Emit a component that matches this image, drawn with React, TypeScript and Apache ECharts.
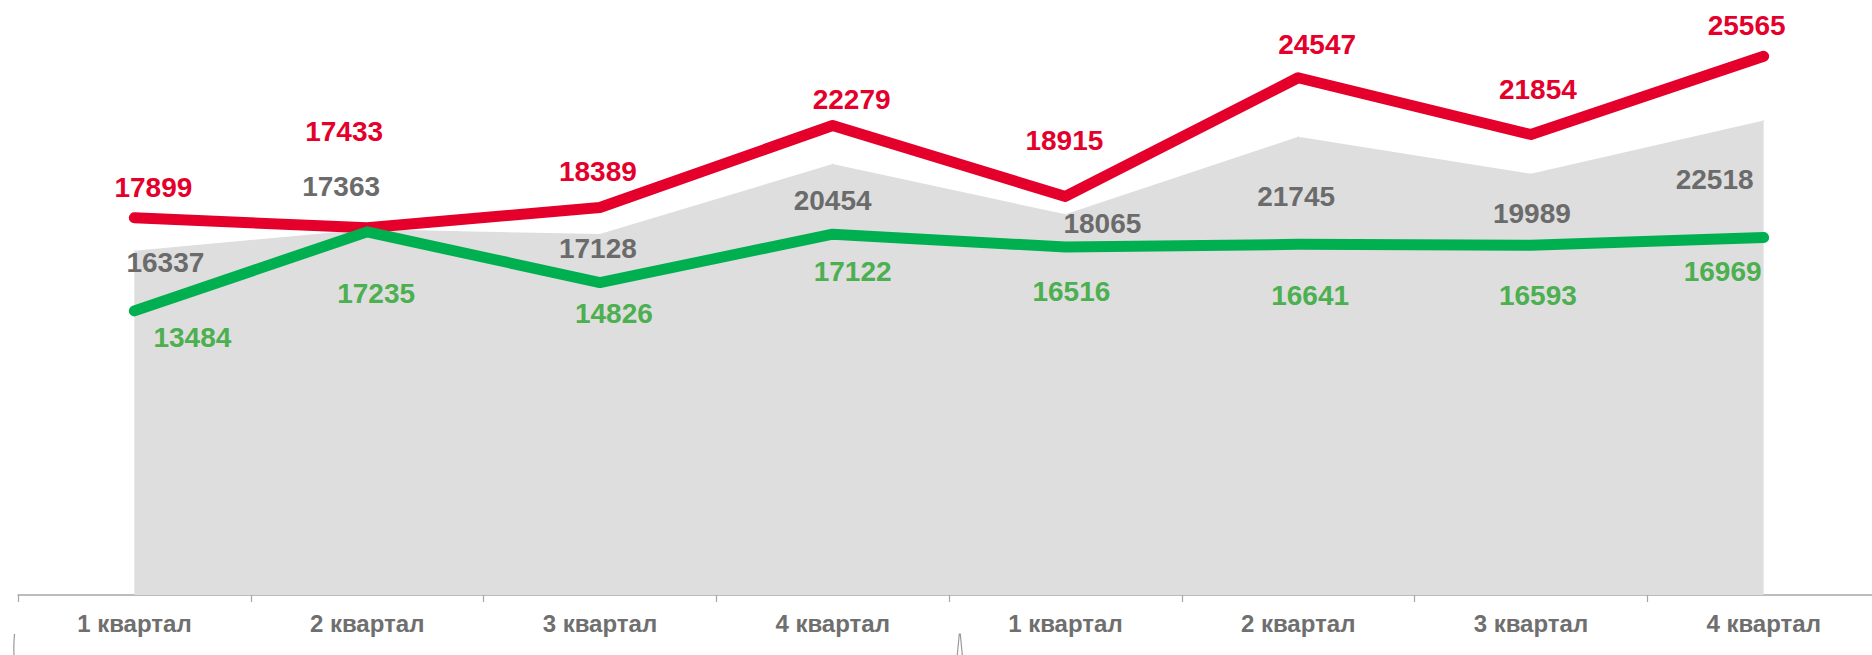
import React, { useEffect, useRef } from "react";
import * as echarts from "echarts";

const categories = [
  "1 квартал", "2 квартал", "3 квартал", "4 квартал",
  "1 квартал", "2 квартал", "3 квартал", "4 квартал",
];
const redValues = [17899, 17433, 18389, 22279, 18915, 24547, 21854, 25565];
const grayValues = [16337, 17363, 17128, 20454, 18065, 21745, 19989, 22518];
const greenValues = [13484, 17235, 14826, 17122, 16516, 16641, 16593, 16969];

// label placement (layout only), [dx, dy] from each point
const redLabelOffsets = [[19, -30], [-23, -96], [-2, -36], [19, -26], [-1, -56], [19, -33], [7, -45], [-17, -31]];
const grayLabelOffsets = [[31, 12], [-26, -43], [-2, 14], [0, 36], [37, 9], [-2, 60], [1, 40], [-49, 59]];
const greenLabelOffsets = [[58, 27], [9, 62], [14, 31], [20, 37], [6, 45], [12, 51], [7, 50], [-41, 34]];

const FONT = "'Liberation Sans', Arial, sans-serif";

function withOffsets(values: number[], offsets: number[][]) {
  return values.map((v, i) => ({ value: v, label: { offset: offsets[i] } }));
}

export default function App() {
  const ref = useRef<HTMLDivElement>(null);
  useEffect(() => {
    if (!ref.current) return;
    const chart = echarts.init(ref.current, undefined, { renderer: "svg" });
    const labelBase = {
      show: true,
      position: "inside",
      fontFamily: FONT,
      fontSize: 28,
      fontWeight: "bold",
    };
    chart.setOption({
      animation: false,
      backgroundColor: "#ffffff",
      grid: {
        left: 18,
        width: 1862,
        top: 5,
        bottom: 60,
        containLabel: false,
        outerBoundsMode: "none",
      },
      xAxis: {
        type: "category",
        data: categories,
        boundaryGap: true,
        axisLine: { show: true, lineStyle: { color: "#a6a6a6", width: 1.5 } },
        axisTick: { show: true, interval: 0, length: 7, lineStyle: { color: "#a6a6a6", width: 1.2 } },
        axisLabel: {
          interval: 0,
          margin: 16,
          fontFamily: FONT,
          fontSize: 24,
          fontWeight: "bold",
          color: "#6f6f6f",
        },
        splitLine: { show: false },
      },
      yAxis: {
        type: "value",
        min: 0,
        max: 28000,
        show: false,
        splitLine: { show: false },
      },
      series: [
        {
          name: "area",
          type: "line",
          data: withOffsets(grayValues, grayLabelOffsets),
          symbol: "circle",
          symbolSize: 1,
          itemStyle: { color: "#dedede" },
          lineStyle: { width: 0, color: "#dedede" },
          areaStyle: { color: "#dedede", opacity: 1 },
          label: { ...labelBase, color: "#6b6b6b" },
          z: 1,
        },
        {
          name: "red",
          type: "line",
          data: withOffsets(redValues, redLabelOffsets),
          symbol: "circle",
          symbolSize: 1,
          itemStyle: { color: "#e4002b" },
          lineStyle: { width: 11, color: "#e4002b", cap: "round", join: "round" },
          label: { ...labelBase, color: "#e4002b" },
          z: 2,
        },
        {
          name: "green",
          type: "line",
          data: withOffsets(greenValues, greenLabelOffsets),
          symbol: "circle",
          symbolSize: 1,
          itemStyle: { color: "#00b050" },
          lineStyle: { width: 11, color: "#00b050", cap: "round", join: "round" },
          label: { ...labelBase, color: "#4caf50" },
          z: 3,
        },
      ],
      graphic: [
        {
          type: "bezierCurve",
          shape: { x1: 14, y1: 655, x2: 14.5, y2: 634, cpx1: 13.5, cpy1: 645 },
          style: { stroke: "#9a9a9a", lineWidth: 1.2, fill: "none" },
        },
        {
          type: "polyline",
          shape: { points: [[957.3, 655], [959.3, 634], [960.3, 634], [962.3, 655]] },
          style: { stroke: "#9a9a9a", lineWidth: 1.2, fill: "none" },
        },
      ],
    });
    return () => chart.dispose();
  }, []);
  return (
    <div
      ref={ref}
      style={{ position: "absolute", left: 0, top: 0, width: 1872, height: 655 }}
    />
  );
}
